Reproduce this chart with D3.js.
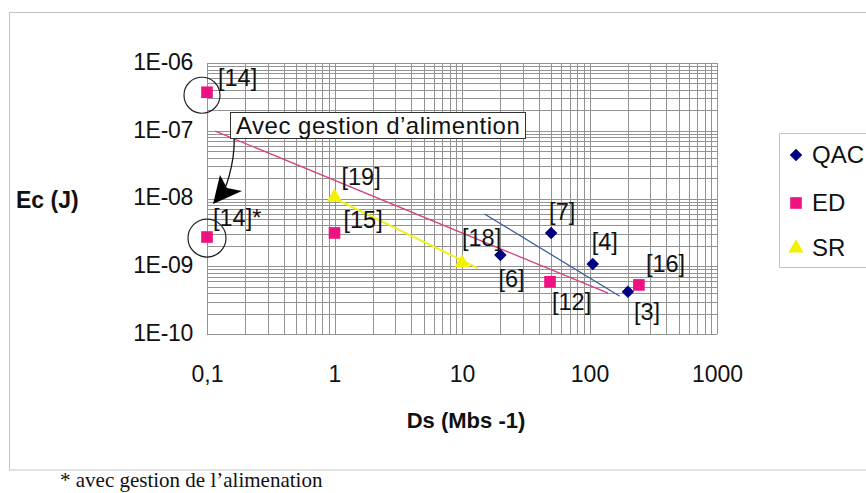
<!DOCTYPE html>
<html>
<head>
<meta charset="utf-8">
<script src="https://cdn.jsdelivr.net/npm/d3@7"></script>
<style>
  html, body { margin: 0; padding: 0; background: #fff; }
  svg { display: block; }
</style>
</head>
<body>
<svg id="chart" width="866" height="493"></svg>
<script>
// ---- Data ----
const seriesNames = ["QAC", "ED", "SR"];

const qacX = [20, 50, 106, 200];
const qacY = [1.47e-9, 3.1e-9, 1.08e-9, 4.2e-10];
const qacLabels = ["[6]", "[7]", "[4]", "[3]"];

const edX = [0.1, 0.1, 1, 49, 244];
const edY = [3.7e-7, 2.7e-9, 3.1e-9, 5.9e-10, 5.3e-10];
const edLabels = ["[14]", "[14]*", "[15]", "[12]", "[16]"];

const srX = [1, 10];
const srY = [1.05e-8, 1.12e-9];
const srLabels = ["[19]", "[18]"];

// trend lines (end points)
const qacTrendX = [15, 173];
const qacTrendY = [5.9e-9, 3.6e-10];
const edTrendX = [0.116, 140];
const edTrendY = [9.9e-8, 4.0e-10];
const srTrendX = [1, 13.3];
const srTrendY = [1.0e-8, 9.4e-10];

const xTickValues = [0.1, 1, 10, 100, 1000];
const xTickLabels = ["0,1", "1", "10", "100", "1000"];
const yTickValues = [1e-10, 1e-9, 1e-8, 1e-7, 1e-6];
const yTickLabels = ["1E-10", "1E-09", "1E-08", "1E-07", "1E-06"];

const annotationText = "Avec gestion d\u2019alimention";
const footnote = "* avec gestion de l\u2019alimenation";

// label offsets (layout, in pixels: dx to label start, dy to label centre)
const qacLabelOffsets = [[-2, 24], [-2, -21], [-1, -22], [6, 20]];
const edLabelOffsets = [[11, -14], [6, -19], [9, -13], [2, 20], [7, -21]];
const srLabelOffsets = [[7, -20], [0, -25]];

// ---- Layout ----
const colors = { QAC: "#000080", ED: "#ee1180", SR: "#f2f200" };
const trendColors = { QAC: "#3d5e9e", ED: "#d6407a", SR: "#f0f020" };
const FONT = "'Liberation Sans', Arial, sans-serif";

const svg = d3.select("#chart");
const x = d3.scaleLog().domain([0.1, 1000]).range([207, 717]);
const y = d3.scaleLog().domain([1e-10, 1e-6]).range([334, 63]);

// outer frame
svg.append("rect").attr("x", 9.5).attr("y", 12.5).attr("width", 880).attr("height", 457.5)
  .attr("fill", "#fff").attr("stroke", "#c4c4c4").attr("stroke-width", 1);

// grid
const gridX = [];
for (let e = -1; e < 3; e++) for (let m = 1; m <= 9; m++) gridX.push(m * Math.pow(10, e));
gridX.push(1000);
const gridY = [];
for (let e = -10; e < -6; e++) for (let m = 1; m <= 9; m++) gridY.push(m * Math.pow(10, e));
gridY.push(1e-6);

const grid = svg.append("g").attr("stroke", "#939393").attr("stroke-width", 1).attr("shape-rendering", "crispEdges");
grid.selectAll("line.v").data(gridX).join("line").attr("class", "v")
  .attr("x1", d => Math.round(x(d)) + 0.5).attr("x2", d => Math.round(x(d)) + 0.5)
  .attr("y1", y(1e-6)).attr("y2", y(1e-10));
grid.selectAll("line.h").data(gridY).join("line").attr("class", "h")
  .attr("y1", d => Math.round(y(d)) + 0.5).attr("y2", d => Math.round(y(d)) + 0.5)
  .attr("x1", x(0.1)).attr("x2", x(1000));

// axes (labels only)
const xAxis = d3.axisBottom(x).tickValues(xTickValues)
  .tickFormat((d, i) => xTickLabels[i]).tickSize(0).tickPadding(0);
const gx = svg.append("g").attr("transform", "translate(0,360)").call(xAxis);
gx.select(".domain").remove();
gx.selectAll("text").attr("font-family", FONT).attr("font-size", 23).attr("fill", "#111")
  .attr("dy", "0.71em").attr("y", 6);

const yAxis = d3.axisLeft(y).tickValues(yTickValues)
  .tickFormat((d, i) => yTickLabels[i]).tickSize(0).tickPadding(14);
const gy = svg.append("g").attr("transform", "translate(207,0)").call(yAxis);
gy.select(".domain").remove();
gy.selectAll("text").attr("font-family", FONT).attr("font-size", 23).attr("fill", "#111")
  .attr("dy", "0.28em").attr("letter-spacing", "-0.3");

// axis titles
svg.append("text").attr("x", 16).attr("y", 208).attr("font-family", FONT)
  .attr("font-size", 23).attr("font-weight", "bold").attr("fill", "#111")
  .text("Ec (J)");
svg.append("text").attr("x", 466).attr("y", 428).attr("text-anchor", "middle").attr("font-family", FONT)
  .attr("font-size", 22).attr("font-weight", "bold").attr("fill", "#111")
  .text("Ds (Mbs -1)");

// trend lines
function trend(xs, ys, color, w) {
  const line = d3.line().x(d => x(d[0])).y(d => y(d[1]));
  svg.append("path").datum(xs.map((v, i) => [v, ys[i]])).attr("d", line)
    .attr("fill", "none").attr("stroke", color).attr("stroke-width", w);
}
trend(edTrendX, edTrendY, trendColors.ED, 1.3);
trend(qacTrendX, qacTrendY, trendColors.QAC, 1.3);
trend(srTrendX, srTrendY, trendColors.SR, 2);

// markers
const symDiamond = d3.symbol().type(d3.symbolDiamond2).size(100);
const symSquare = d3.symbol().type(d3.symbolSquare).size(135);
const symTriangle = d3.symbol().type(d3.symbolTriangle).size(100);

function points(xs, ys, sym, color) {
  svg.append("g").selectAll("path").data(xs.map((v, i) => [v, ys[i]])).join("path")
    .attr("transform", d => `translate(${x(d[0])},${y(d[1])})`)
    .attr("d", sym).attr("fill", color);
}
points(srX, srY, symTriangle, colors.SR);
points(edX, edY, symSquare, colors.ED);
points(qacX, qacY, symDiamond, colors.QAC);

// point labels
function labels(xs, ys, texts, offs) {
  svg.append("g").selectAll("text").data(texts).join("text")
    .attr("x", (d, i) => x(xs[i]) + offs[i][0])
    .attr("y", (d, i) => y(ys[i]) + offs[i][1])
    .attr("dy", "0.35em")
    .attr("font-family", FONT).attr("font-size", 23.5).attr("fill", "#111")
    .text(d => d);
}
labels(qacX, qacY, qacLabels, qacLabelOffsets);
labels(edX, edY, edLabels, edLabelOffsets);
labels(srX, srY, srLabels, srLabelOffsets);

// circles around [14] points
svg.append("circle").attr("cx", x(edX[0]) - 5).attr("cy", y(edY[0]) + 3).attr("r", 18)
  .attr("fill", "none").attr("stroke", "#222").attr("stroke-width", 1.2);
svg.append("circle").attr("cx", x(edX[1])).attr("cy", y(edY[1]) + 1).attr("r", 19)
  .attr("fill", "none").attr("stroke", "#222").attr("stroke-width", 1.2);

// curved arrow
svg.append("path").attr("d", "M231,116 C236,135 235,160 226,186")
  .attr("fill", "none").attr("stroke", "#111").attr("stroke-width", 1.3);
svg.append("path").attr("d", "M213,204 L220,175 L227,188 L242,191 Z").attr("fill", "#000");

// callout box
svg.append("rect").attr("x", 230.5).attr("y", 112.5).attr("width", 295).attr("height", 26)
  .attr("fill", "#fff").attr("stroke", "#333").attr("stroke-width", 1);
svg.append("text").attr("x", 236).attr("y", 134).attr("font-family", FONT)
  .attr("font-size", 24).attr("letter-spacing", "0.5").attr("fill", "#111").text(annotationText);

// legend
svg.append("rect").attr("x", 779.5).attr("y", 133.5).attr("width", 120).attr("height", 134)
  .attr("fill", "#fff").attr("stroke", "#c4c4c4").attr("stroke-width", 1);
const legSyms = [symDiamond, symSquare, symTriangle];
const legY = [155, 203, 248];
const leg = svg.append("g");
seriesNames.forEach((name, i) => {
  leg.append("path").attr("transform", `translate(796,${legY[i]})`).attr("d", legSyms[i])
    .attr("fill", colors[name]);
  leg.append("text").attr("x", 812).attr("y", legY[i]).attr("dy", "0.35em")
    .attr("font-family", FONT).attr("font-size", 24).attr("fill", "#111").text(name);
});

// footnote
svg.append("text").attr("x", 60).attr("y", 487).attr("font-family", "'Liberation Serif', 'Times New Roman', serif")
  .attr("font-size", 21).attr("fill", "#111").text(footnote);
</script>
</body>
</html>
